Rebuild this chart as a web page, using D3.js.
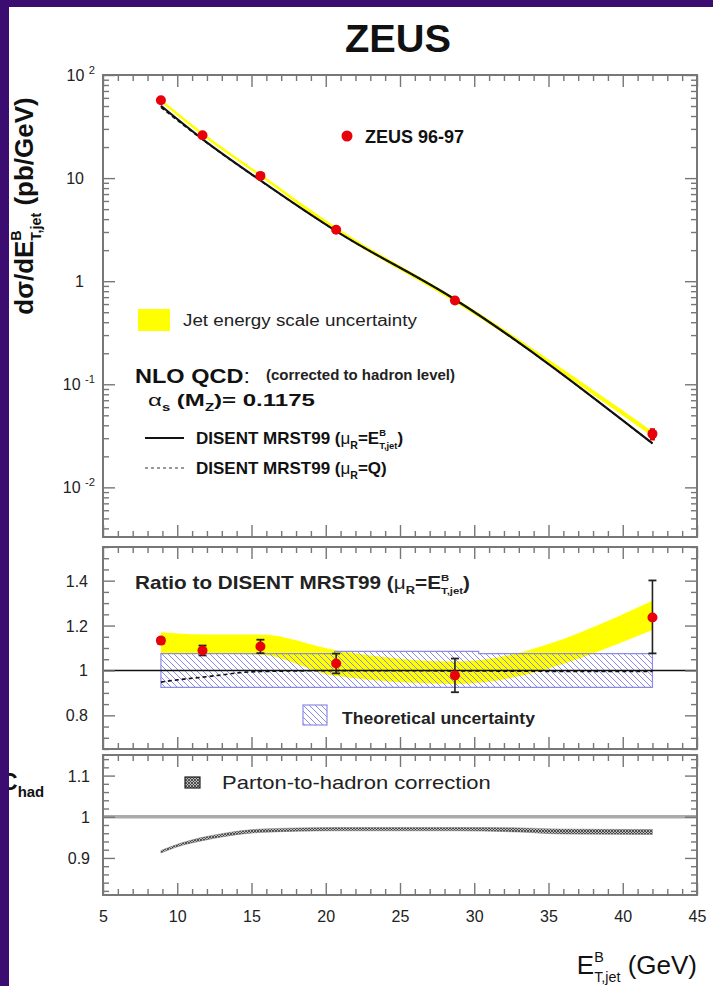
<!DOCTYPE html>
<html><head><meta charset="utf-8">
<script src="https://cdn.jsdelivr.net/npm/d3@7"></script>
<style>
body{margin:0;background:#3b0d70;}
svg{display:block}
text{font-family:"Liberation Sans",Arial,Helvetica,sans-serif;white-space:pre}
</style>
</head><body>
<svg id="c" width="713" height="986"></svg>
<script>
// ---------------- DATA ----------------
const etJet = [8.9, 11.7, 15.6, 20.7, 28.7, 42.0];              // GeV
const xsec = [57, 26, 10.5, 3.15, 0.65, 0.033];                  // pb/GeV (ZEUS 96-97)
const xsecErr = [1.5, 0.7, 0.3, 0.12, 0.04, 0.0045];
const jesTopLow = [54.3, 25.8, 10.3, 3.03, 0.625, 0.0311];
const jesTopHigh = [58.4, 27.7, 11.0, 3.34, 0.690, 0.0350];
const nloEt = [50.3, 23.9, 9.5, 3.06, 0.665, 0.0267];           // DISENT MRST99 muR=ET
const nloQ = [48.5, 23.6, 9.45, 3.06, 0.664, 0.0266];           // DISENT MRST99 muR=Q

const ratio = [1.133, 1.089, 1.107, 1.031, 0.978, 1.236];
const ratioErrUp = [0.012, 0.022, 0.030, 0.044, 0.075, 0.165];
const ratioErrDn = [0.012, 0.022, 0.030, 0.044, 0.075, 0.160];
const jesRatioHigh = [1.17, 1.16, 1.16, 1.09, 1.04, 1.31];
const jesRatioLow = [1.075, 1.075, 1.07, 0.975, 0.94, 1.18];

const theoryX = [8.9, 20.6, 20.6, 30.3, 30.3, 42.0];
const theoryHigh = [1.075, 1.075, 1.085, 1.085, 1.075, 1.075];
const theoryLow = [0.925, 0.925, 0.925, 0.925, 0.925, 0.925];

const ratioQX = [8.9, 10.0, 11.7, 13.0, 14.2, 15.6, 20.7, 28.7, 35.0, 42.0];
const ratioQY = [0.948, 0.958, 0.97, 0.98, 0.99, 0.995, 0.999, 0.998, 0.996, 0.995];

const chadX = [8.9, 10.0, 11.7, 13.0, 15.6, 20.7, 25.0, 28.7, 33.0, 36.0, 42.0];
const chadY = [0.915, 0.93, 0.946, 0.955, 0.966, 0.970, 0.970, 0.970, 0.968, 0.964, 0.963];
const chadHalf = [0.003, 0.003, 0.004, 0.004, 0.004, 0.004, 0.004, 0.004, 0.005, 0.006, 0.006];

const xTickLabels = [5, 10, 15, 20, 25, 30, 35, 40, 45];
const logExponents = [-2, -1, 0, 1, 2];
const ratioTickLabels = [0.8, 1, 1.2, 1.4];
const chadTickLabels = [0.9, 1, 1.1];

// ---------------- SETUP ----------------
const svg = d3.select('#c');
svg.append('rect').attr('width', 713).attr('height', 986).attr('fill', '#3b0d70');
svg.append('rect').attr('x', 9).attr('y', 7).attr('width', 704).attr('height', 979).attr('fill', '#fff');

const defs = svg.append('defs');
const hp = defs.append('pattern').attr('id', 'hatch').attr('patternUnits', 'userSpaceOnUse')
  .attr('width', 6).attr('height', 6);
hp.append('path').attr('d', 'M-1,-1L7,7M-1,5L1,7M5,-1L7,1').attr('stroke', '#8c8ce6').attr('stroke-width', 1);
const xp = defs.append('pattern').attr('id', 'xhatch').attr('patternUnits', 'userSpaceOnUse')
  .attr('width', 3).attr('height', 3);
xp.append('rect').attr('width', 3).attr('height', 3).attr('fill', '#bbb');
xp.append('path').attr('d', 'M0,0L3,3M3,0L0,3').attr('stroke', '#333').attr('stroke-width', 0.8);

const X0 = 103, X1 = 697;
const x = d3.scaleLinear().domain([5, 45]).range([X0, X1]);
const yTop = d3.scaleLog().domain([0.0033, 100]).range([537, 75]);
const yRat = d3.scaleLinear().domain([0.65, 1.55]).range([749, 547]);
const yHad = d3.scaleLinear().domain([0.81, 1.15]).range([895, 755]);

function clip(id, y0, y1) {
  defs.append('clipPath').attr('id', id).append('rect')
    .attr('x', X0).attr('y', y0).attr('width', X1 - X0).attr('height', y1 - y0);
}
clip('cTop', 75, 537); clip('cRat', 547, 749); clip('cHad', 755, 895);

// rich text helper (supports sub/superscripts, stacked sub under sup, width fitting)
function rich(parent, x0, y0, parts, o) {
  const g = parent.append('g');
  let cx = 0, supX = 0;
  parts.forEach(p => {
    const k = p.k || 'n';
    const fs = k === 'n' ? o.size : o.size * (p.r || 0.62);
    const dy = k === 'sup' ? -o.size * 0.45 : (k === 'sub' || k === 'stack') ? o.size * 0.3 : 0;
    const px = k === 'stack' ? supX : cx;
    const t = g.append('text').attr('x', px).attr('y', dy).attr('font-size', fs)
      .attr('font-weight', p.w || o.weight || 'normal').attr('fill', o.fill || '#111')
      .text(p.t.replace(/ /g, '\u00a0'));
    const w = t.node().getComputedTextLength();
    if (k === 'sup') { supX = cx; cx += w; }
    else if (k === 'stack') { cx = Math.max(cx, supX + w); }
    else cx += w;
  });
  const wd = o.width || cx;
  const sx = wd / cx;
  let ox = x0;
  if (o.anchor === 'end') ox = x0 - wd; else if (o.anchor === 'middle') ox = x0 - wd / 2;
  g.attr('transform', `translate(${ox},${y0}) scale(${sx},1)`);
  return g;
}

function styleAxis(g) {
  g.select('.domain').remove();
  g.selectAll('.tick line').attr('stroke', '#777').attr('stroke-width', 1.4);
  g.selectAll('.tick text').attr('fill', '#222');
}
function xTicks(yT, yB, withLabels) {
  const maj = xTickLabels, mnr = d3.range(5, 46, 1).filter(v => v % 5 !== 0);
  [[maj, 12], [mnr, 6]].forEach(([vals, len]) => {
    svg.append('g').attr('transform', `translate(0,${yT})`)
      .call(d3.axisTop(x).tickValues(vals).tickSize(-len).tickFormat('')).call(styleAxis);
    const gb = svg.append('g').attr('transform', `translate(0,${yB})`)
      .call(d3.axisBottom(x).tickValues(vals).tickSize(-len)
        .tickFormat(withLabels && vals === maj ? d3.format('d') : '').tickPadding(16)).call(styleAxis);
    gb.selectAll('.tick text').attr('font-size', 16).attr('font-family', '"Liberation Sans",Arial,sans-serif');
  });
}
function yTicks(scale, majVals, mnrVals) {
  [[majVals, 12], [mnrVals, 6]].forEach(([vals, len]) => {
    svg.append('g').attr('transform', `translate(${X0},0)`)
      .call(d3.axisLeft(scale).tickValues(vals).tickSize(-len).tickFormat('')).call(styleAxis);
    svg.append('g').attr('transform', `translate(${X1},0)`)
      .call(d3.axisRight(scale).tickValues(vals).tickSize(-len).tickFormat('')).call(styleAxis);
  });
}
function frame(y0, y1) {
  svg.append('rect').attr('x', X0).attr('y', y0).attr('width', X1 - X0).attr('height', y1 - y0)
    .attr('fill', 'none').attr('stroke', '#777').attr('stroke-width', 2);
}

// ---------------- TITLE ----------------
svg.append('text').attr('x', 398).attr('y', 52).attr('text-anchor', 'middle')
  .attr('font-size', 39).attr('font-weight', 'bold').attr('fill', '#111')
  .attr('textLength', 106).attr('lengthAdjust', 'spacingAndGlyphs').text('ZEUS');

// ---------------- TOP PANEL ----------------
const gTop = svg.append('g').attr('clip-path', 'url(#cTop)');
const idx = etJet.map((d, i) => i);
gTop.append('path').datum(idx)
  .attr('d', d3.area().x(i => x(etJet[i])).y0(i => yTop(jesTopLow[i])).y1(i => yTop(jesTopHigh[i])).curve(d3.curveMonotoneX))
  .attr('fill', '#ffff00');
gTop.append('path').datum(idx)
  .attr('d', d3.line().x(i => x(etJet[i])).y(i => yTop(nloQ[i])).curve(d3.curveMonotoneX))
  .attr('fill', 'none').attr('stroke', '#111').attr('stroke-width', 1.5).attr('stroke-dasharray', '4,3');
gTop.append('path').datum(idx)
  .attr('d', d3.line().x(i => x(etJet[i])).y(i => yTop(nloEt[i])).curve(d3.curveMonotoneX))
  .attr('fill', 'none').attr('stroke', '#111').attr('stroke-width', 2.2);
idx.forEach(i => {
  const cx = x(etJet[i]);
  const a = yTop(xsec[i] + xsecErr[i]), b = yTop(xsec[i] - xsecErr[i]);
  gTop.append('line').attr('x1', cx).attr('x2', cx).attr('y1', a).attr('y2', b).attr('stroke', '#d00').attr('stroke-width', 5);
  gTop.append('circle').attr('cx', cx).attr('cy', yTop(xsec[i])).attr('r', 5).attr('fill', '#e8000b');
});
frame(75, 537);
xTicks(75, 537, false);
const logMaj = logExponents.map(e => Math.pow(10, e));
const logMin = [];
[-3, -2, -1, 0, 1].forEach(e => d3.range(2, 10).forEach(m => {
  const v = m * Math.pow(10, e); if (v >= 0.0033 && v <= 100) logMin.push(v);
}));
yTicks(yTop, logMaj, logMin);
logExponents.forEach(e => {
  const yy = yTop(Math.pow(10, e)) + 6;
  if (e === 0) rich(svg, 84, yy, [{ t: '1' }], { size: 16, anchor: 'end', fill: '#222' });
  else if (e === 1) rich(svg, 84, yy, [{ t: '10' }], { size: 16, anchor: 'end', fill: '#222' });
  else rich(svg, 95, yy, [{ t: '10 ' }, { t: String(e), k: 'sup', r: 0.7 }], { size: 16, anchor: 'end', fill: '#222' });
});

// y label
const gyl = svg.append('g').attr('transform', 'translate(33,206) rotate(-90)');
rich(gyl, 0, 0, [{ t: 'd\u03c3/dE' }, { t: 'B', k: 'sup', r: 0.55 }, { t: 'T,jet', k: 'stack', r: 0.55 }, { t: ' (pb/GeV)' }],
  { size: 26, weight: 'bold', anchor: 'middle' });

// top legends
svg.append('circle').attr('cx', 347).attr('cy', 136).attr('r', 5.5).attr('fill', '#e8000b');
rich(svg, 365, 143, [{ t: 'ZEUS 96-97' }], { size: 18, weight: 'bold' });
svg.append('rect').attr('x', 138).attr('y', 309).attr('width', 32).attr('height', 22).attr('fill', '#ffff00');
rich(svg, 183, 326, [{ t: 'Jet energy scale uncertainty' }], { size: 16, weight: 'normal', fill: '#222', width: 234 });
rich(svg, 135, 383, [{ t: 'NLO QCD' }, { t: ':', w: 'normal' }], { size: 21, weight: 'bold', width: 115 });
rich(svg, 266, 380, [{ t: '(corrected to hadron level)' }], { size: 14, weight: 'bold', fill: '#222', width: 189 });
rich(svg, 148, 406, [{ t: '\u03b1', w: 'normal' }, { t: 's', k: 'sub' }, { t: ' (M' }, { t: 'Z', k: 'sub' }, { t: ')= 0.1175' }],
  { size: 17, weight: 'bold', width: 167 });
svg.append('line').attr('x1', 145).attr('x2', 184).attr('y1', 438).attr('y2', 438).attr('stroke', '#111').attr('stroke-width', 2);
rich(svg, 196, 444, [{ t: 'DISENT MRST99 (' }, { t: '\u03bc', w: 'normal' }, { t: 'R', k: 'sub' }, { t: '=E' },
  { t: 'B', k: 'sup', r: 0.55 }, { t: 'T,jet', k: 'stack', r: 0.55 }, { t: ')' }], { size: 17, weight: 'bold' });
svg.append('line').attr('x1', 145).attr('x2', 184).attr('y1', 468).attr('y2', 468).attr('stroke', '#999')
  .attr('stroke-width', 2).attr('stroke-dasharray', '3,3');
rich(svg, 196, 474, [{ t: 'DISENT MRST99 (' }, { t: '\u03bc', w: 'normal' }, { t: 'R', k: 'sub' }, { t: '=Q)' }],
  { size: 17, weight: 'bold' });

// ---------------- RATIO PANEL ----------------
const gRat = svg.append('g').attr('clip-path', 'url(#cRat)');
gRat.append('path').datum(idx)
  .attr('d', d3.area().x(i => x(etJet[i])).y0(i => yRat(jesRatioLow[i])).y1(i => yRat(jesRatioHigh[i])).curve(d3.curveMonotoneX))
  .attr('fill', '#ffff00');
const tIdx = theoryX.map((d, i) => i);
gRat.append('path').datum(tIdx)
  .attr('d', d3.area().x(i => x(theoryX[i])).y0(i => yRat(theoryLow[i])).y1(i => yRat(theoryHigh[i])))
  .attr('fill', 'url(#hatch)').attr('stroke', '#8c8ce6').attr('stroke-width', 1.2);
gRat.append('line').attr('x1', X0).attr('x2', X1).attr('y1', yRat(1)).attr('y2', yRat(1))
  .attr('stroke', '#111').attr('stroke-width', 1.6);
const qIdx = ratioQX.map((d, i) => i);
gRat.append('path').datum(qIdx)
  .attr('d', d3.line().x(i => x(ratioQX[i])).y(i => yRat(ratioQY[i])).curve(d3.curveMonotoneX))
  .attr('fill', 'none').attr('stroke', '#111').attr('stroke-width', 1.6).attr('stroke-dasharray', '4,3');
idx.forEach(i => {
  const cx = x(etJet[i]);
  const a = yRat(ratio[i] + ratioErrUp[i]), b = yRat(ratio[i] - ratioErrDn[i]);
  gRat.append('line').attr('x1', cx).attr('x2', cx).attr('y1', a).attr('y2', b).attr('stroke', '#222').attr('stroke-width', 1.6);
  [a, b].forEach(yy => gRat.append('line').attr('x1', cx - 4).attr('x2', cx + 4).attr('y1', yy).attr('y2', yy)
    .attr('stroke', '#222').attr('stroke-width', 1.8));
  gRat.append('circle').attr('cx', cx).attr('cy', yRat(ratio[i])).attr('r', 5).attr('fill', '#e8000b');
});
frame(547, 749);
xTicks(547, 749, false);
yTicks(yRat, ratioTickLabels, d3.range(0.65, 1.551, 0.05).map(v => +v.toFixed(2)).filter(v => Math.abs(v * 5 - Math.round(v * 5)) > 1e-6));
ratioTickLabels.forEach(v => rich(svg, 88, yRat(v) + 6, [{ t: d3.format('~g')(v) }], { size: 16, anchor: 'end', fill: '#222' }));
rich(svg, 135, 589, [{ t: 'Ratio to DISENT MRST99 (' }, { t: '\u03bc', w: 'normal' }, { t: 'R', k: 'sub' }, { t: '=E' },
  { t: 'B', k: 'sup', r: 0.55 }, { t: 'T,jet', k: 'stack', r: 0.55 }, { t: ')' }], { size: 18, weight: 'bold', fill: '#222', width: 335 });
svg.append('rect').attr('x', 303).attr('y', 705).attr('width', 24).attr('height', 20)
  .attr('fill', 'url(#hatch)').attr('stroke', '#8c8ce6').attr('stroke-width', 1.2);
rich(svg, 342, 724, [{ t: 'Theoretical uncertainty' }], { size: 17, weight: 'bold', fill: '#222', width: 193 });

// ---------------- CHAD PANEL ----------------
const gHad = svg.append('g').attr('clip-path', 'url(#cHad)');
gHad.append('line').attr('x1', X0).attr('x2', X1).attr('y1', yHad(1)).attr('y2', yHad(1))
  .attr('stroke', '#aaa').attr('stroke-width', 3.5);
const cIdx = chadX.map((d, i) => i);
gHad.append('path').datum(cIdx)
  .attr('d', d3.area().x(i => x(chadX[i])).y0(i => yHad(chadY[i] - chadHalf[i])).y1(i => yHad(chadY[i] + chadHalf[i])).curve(d3.curveMonotoneX))
  .attr('fill', 'url(#xhatch)').attr('stroke', '#777').attr('stroke-width', 0.5);
frame(755, 895);
xTicks(755, 895, true);
yTicks(yHad, chadTickLabels, d3.range(0.82, 1.15, 0.02).map(v => +v.toFixed(2)).filter(v => Math.abs(v * 10 - Math.round(v * 10)) > 1e-6));
chadTickLabels.forEach(v => rich(svg, 90, yHad(v) + 6, [{ t: d3.format('~g')(v) }], { size: 16, anchor: 'end', fill: '#222' }));
svg.append('rect').attr('x', 185).attr('y', 777).attr('width', 15).attr('height', 11)
  .attr('fill', 'url(#xhatch)').attr('stroke', '#222').attr('stroke-width', 1.2);
rich(svg, 222, 789, [{ t: 'Parton-to-hadron correction' }], { size: 18, weight: 'normal', fill: '#222', width: 269 });

// C_had label (left part hidden by the slide border, as in the original)
rich(svg, 1, 790, [{ t: 'C' }, { t: 'had', k: 'sub', r: 0.65 }], { size: 23, weight: 'bold' });

// x label
rich(svg, 697, 974, [{ t: 'E' }, { t: 'B', k: 'sup', r: 0.55 }, { t: 'T,jet', k: 'stack', r: 0.55 }, { t: ' (GeV)' }],
  { size: 26, weight: 'normal', anchor: 'end', fill: '#111' });

// purple slide border overlays
svg.append('rect').attr('x', 0).attr('y', 0).attr('width', 9).attr('height', 986).attr('fill', '#3b0d70');
svg.append('rect').attr('x', 0).attr('y', 0).attr('width', 713).attr('height', 7).attr('fill', '#3b0d70');
</script>
</body></html>
